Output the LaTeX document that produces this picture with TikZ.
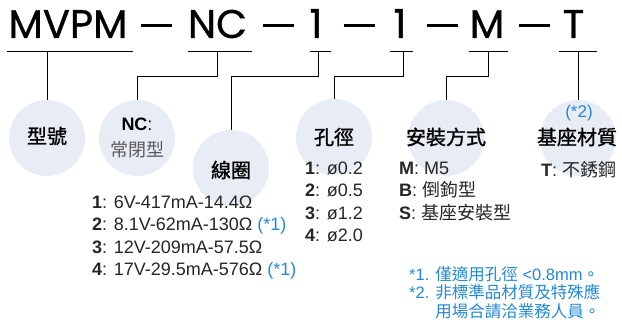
\documentclass[tikz,border=0pt]{standalone}
\usepackage{fontspec}
\setmainfont{Liberation Sans}
\newfontfamily\cjk{Noto Sans CJK TC}
\newfontfamily\cjkb[FakeBold=1.2]{Noto Sans CJK TC}
\newfontfamily\hdr[FakeBold=0.8]{Poppins}
\definecolor{bubfill}{HTML}{E8ECF5}
\definecolor{noteblue}{HTML}{2388D6}
\newcommand{\dashbar}{\rule[11.5pt]{31pt}{2.5pt}}
\tikzset{
  bub/.style={circle,fill=bubfill,minimum size=76pt,inner sep=0pt},
  ttl/.style={font=\fontsize{20}{24}\selectfont\cjkb},
  hd/.style={anchor=base,inner sep=0pt,font=\fontsize{40}{40}\selectfont\hdr},
  lst/.style={anchor=north west,align=left,inner sep=0pt,
    font=\fontsize{18}{22.5}\selectfont,text=black!85},
  lin/.style={line width=1pt},
}

\begin{document}
\begin{tikzpicture}[x=1pt,y=-1pt]
  \useasboundingbox (0,0) rectangle (622,329);
  % bubbles
  \node[bub] (c1) at (47,138) {};
  \node[bub] (c2) at (137,138) {};
  \node[bub] (c3) at (231,168) {};
  \node[bub] (c4) at (334,137) {};
  \node[bub] (c5) at (446,138) {};
  \node[bub] (c6) at (578,138) {};
  % model code
  \node[hd] (mvpm) at (68,38) {MVPM};
  \node[hd] (d1) at (156.5,38) {\dashbar};
  \node[hd] (nc) at (217.5,38) {NC};
  \node[hd] (d2) at (278,38) {\dashbar};
  \node[hd] (n1) at (316,38) {1};
  \node[hd] (d3) at (359,38) {\dashbar};
  \node[hd] (n2) at (400,38) {1};
  \node[hd] (d4) at (442,38) {\dashbar};
  \node[hd] (mm) at (487,38) {M};
  \node[hd] (d5) at (534,38) {\dashbar};
  \node[hd] (tt) at (573.5,38) {T};
  % underlines
  \draw[lin] (7,52) -- (133,52);
  \draw[lin] (188,52) -- (252,52);
  \draw[lin] (310,52) -- (331,52);
  \draw[lin] (390,52) -- (413,52);
  \draw[lin] (469,52) -- (508,52);
  \draw[lin] (559,52) -- (597,52);
  \coordinate (u1) at (47,52);
  \coordinate (u2) at (217,52);
  \coordinate (u3) at (318,52);
  \coordinate (u4) at (403,52);
  \coordinate (u5) at (488,52);
  \coordinate (u6) at (578,52);
  % connectors
  \draw[lin] (u1) -- (c1);
  \draw[lin] (u2) -- ++(0,25) -| (c2.north);
  \draw[lin] (u3) -- ++(0,25) -| (c3.north);
  \draw[lin] (u4) -- ++(0,25) -| (c4.north);
  \draw[lin] (u5) -- ++(0,25) -| (c5.north);
  \draw[lin] (u6) -- (c6);
  % titles
  \node[ttl] at (47,136) {型號};
  \node[font=\fontsize{18}{22}\selectfont] (nct) at (137,124) {\textbf{NC}:};
  \node[font=\fontsize{18}{22}\selectfont\cjk,text=black!65] (ncd) at (137,150) {常閉型};
  \node[ttl] at (231,170) {線圈};
  \node[ttl] at (334,137) {孔徑};
  \node[ttl] at (446,137) {安裝方式};
  \node[font=\fontsize{17}{20}\selectfont,text=noteblue] (star2) at (579,113) {(*2)};
  \node[ttl] at (577,137) {基座材質};
  % option lists
  \node[lst] (coil) at (92,195.5)
    {\textbf{1}: 6V-417mA-14.4Ω\\
     \textbf{2}: 8.1V-62mA-130Ω \textcolor{noteblue}{(*1)}\\
     \textbf{3}: 12V-209mA-57.5Ω\\
     \textbf{4}: 17V-29.5mA-576Ω \textcolor{noteblue}{(*1)}};
  \node[lst] (hole) at (305,161.5)
    {\textbf{1}: ø0.2\\ \textbf{2}: ø0.5\\ \textbf{3}: ø1.2\\ \textbf{4}: ø2.0};
  \node[lst] (mount) at (399,161.5)
    {\textbf{M}: M5\\ \textbf{B}: {\cjk 倒鉤型}\\ \textbf{S}: {\cjk 基座安裝型}};
  \node[lst] (base) at (541,161.5) {\textbf{T}: {\cjk 不銹鋼}};
  % notes
  \node[anchor=north west,align=left,inner sep=0pt,text=noteblue,
    font=\fontsize{16.5}{18.5}\selectfont] (note) at (409,266)
    {*1. {\cjk 僅適用孔徑} <0.8mm{\cjk 。}\\
     *2. {\cjk 非標準品材質及特殊應}\\
     \phantom{*2. }{\cjk 用場合請洽業務人員。}};
\end{tikzpicture}
\end{document}
